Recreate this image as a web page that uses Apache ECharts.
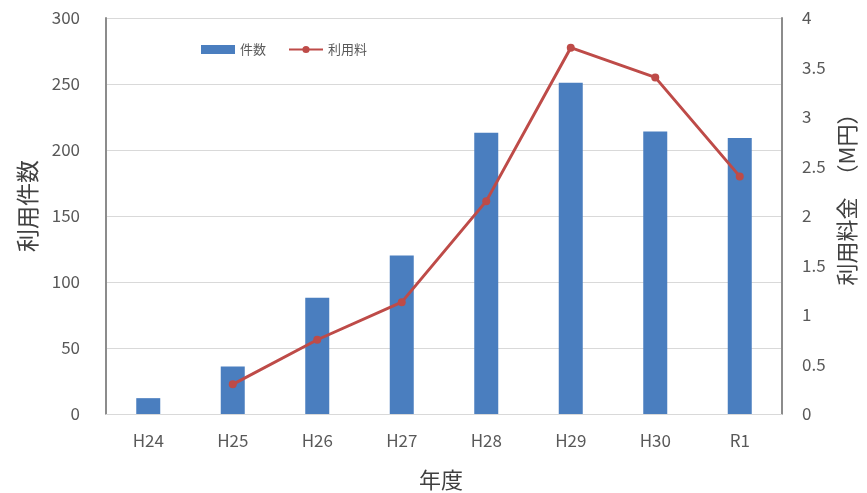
<!DOCTYPE html>
<html>
<head>
<meta charset="utf-8">
<script src="https://cdn.jsdelivr.net/npm/echarts@6/dist/echarts.min.js"></script>
<style>
  html, body { margin: 0; padding: 0; background: #fff; }
  #chart { width: 867px; height: 493px; }
</style>
</head>
<body>
<div id="chart"></div>
<script>
// Fiscal years
const years = ['H24', 'H25', 'H26', 'H27', 'H28', 'H29', 'H30', 'R1'];
// Number of uses per year
const useCounts = [12, 36, 88, 120, 213, 251, 214, 209];
// Usage fees per year (million yen); no record for H24
const useFees = [null, 0.3, 0.75, 1.13, 2.15, 3.7, 3.4, 2.4];
// Left axis ticks
const countTicks = { min: 0, max: 300, interval: 50 };
// Right axis ticks
const feeTicks = { min: 0, max: 4, interval: 0.5 };

const FONT = '"Noto Sans CJK JP", "Noto Sans", sans-serif';
const chart = echarts.init(document.getElementById('chart'));

chart.setOption({
  backgroundColor: '#ffffff',
  animation: false,
  textStyle: { fontFamily: FONT },
  grid: { left: 106, right: 85, top: 18, bottom: 79 },
  legend: {
    left: 196, top: 38,
    itemGap: 22,
    itemWidth: 34, itemHeight: 9,
    textStyle: { color: '#595959', fontSize: 13, fontFamily: FONT },
    data: [
      { name: '件数', icon: 'rect' },
      { name: '利用料' }
    ]
  },
  xAxis: {
    type: 'category',
    data: years,
    axisLine: { lineStyle: { color: '#d9d9d9', width: 1 } },
    axisTick: { show: false },
    axisLabel: { color: '#595959', fontSize: 17, margin: 18, fontFamily: FONT }
  },
  yAxis: [
    {
      type: 'value',
      min: countTicks.min, max: countTicks.max, interval: countTicks.interval,
      axisLine: { show: true, lineStyle: { color: '#8c8c8c', width: 2 } },
      axisTick: { show: false },
      axisLabel: { color: '#595959', fontSize: 17, margin: 26, fontFamily: FONT },
      splitLine: { lineStyle: { color: '#d9d9d9', width: 1 } }
    },
    {
      type: 'value',
      position: 'right',
      min: feeTicks.min, max: feeTicks.max, interval: feeTicks.interval,
      axisLine: { show: true, lineStyle: { color: '#8c8c8c', width: 2 } },
      axisTick: { show: false },
      axisLabel: { color: '#595959', fontSize: 17, margin: 20, fontFamily: FONT },
      splitLine: { show: false }
    }
  ],
  series: [
    {
      name: '件数',
      type: 'bar',
      data: useCounts,
      barWidth: 24,
      itemStyle: { color: '#4a7ebf' }
    },
    {
      name: '利用料',
      type: 'line',
      yAxisIndex: 1,
      data: useFees,
      symbol: 'circle',
      symbolSize: 8,
      lineStyle: { color: '#be4b48', width: 3 },
      itemStyle: { color: '#be4b48' }
    }
  ],
  graphic: [
    {
      type: 'text',
      x: 27, y: 206, rotation: Math.PI / 2,
      style: {
        text: '利用件数', fill: '#404040', fontSize: 23, fontFamily: FONT,
        align: 'center', verticalAlign: 'middle'
      }
    },
    {
      type: 'text',
      x: 847, y: 194, rotation: Math.PI / 2,
      style: {
        text: '利用料金　（M円）', fill: '#404040', fontSize: 22, fontFamily: FONT,
        align: 'center', verticalAlign: 'middle'
      }
    },
    {
      type: 'text',
      x: 441, y: 480,
      style: {
        text: '年度', fill: '#404040', fontSize: 22, fontFamily: FONT,
        align: 'center', verticalAlign: 'middle'
      }
    }
  ]
});
</script>
</body>
</html>
